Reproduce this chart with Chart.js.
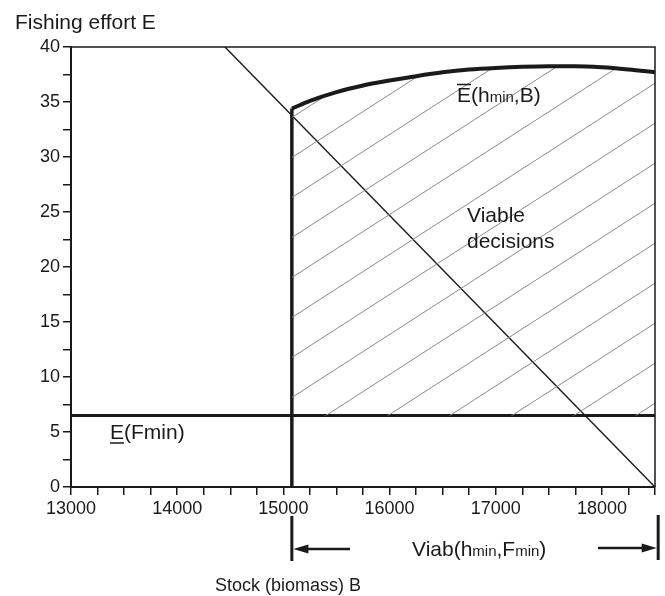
<!DOCTYPE html>
<html>
<head>
<meta charset="utf-8">
<script src="https://cdn.jsdelivr.net/npm/chart.js@4.4.1/dist/chart.umd.min.js"></script>
<style>
    html, body { margin: 0; padding: 0; background: #fff; }
    canvas { display: block; }
</style>
</head>
<body>
<canvas id="viabChart" width="665" height="596"></canvas>
<script>
// stock B on x, fishing effort E on y
const stockValues = [15080, 15250, 15500, 15750, 16000, 16250, 16500, 16750, 17000, 17250, 17500, 17750, 18000, 18250, 18500];
const effortMax = [34.4, 35.1, 35.9, 36.5, 36.95, 37.35, 37.7, 37.95, 38.1, 38.2, 38.25, 38.25, 38.15, 37.95, 37.7];
const effortMin = 6.5;
const stockRange = [13000, 18500];
const effortRange = [0, 40];
const diagonalStock = [14450, 18500];
const diagonalEffort = [40, 0];
const viabRange = [15080, 18530];

const FONT = '"Liberation Sans", Arial, Helvetica, sans-serif';
const INK = '#1a1a1a';

function makeHatch(ctx, w, h, dx) {
    let tile = document.createElement('canvas');
    tile.width = w;
    tile.height = h;
    let t = tile.getContext('2d');
    t.strokeStyle = '#8a8a8a';
    t.lineWidth = 1;
    for (let k = -1; k <= 1; k++) {
        t.beginPath();
        t.moveTo(k * w, h);
        t.lineTo((k + 1) * w, 0);
        t.stroke();
    }
    let pattern = ctx.createPattern(tile, 'repeat');
    pattern.setTransform(new DOMMatrix([1, 0, 0, 1, dx, 0]));
    return pattern;
}

// draws text pieces of mixed size on one baseline
function drawRuns(ctx, runs, x, y) {
    for (let i = 0; i < runs.length; i++) {
        ctx.font = runs[i][1] + 'px ' + FONT;
        ctx.fillText(runs[i][0], x, y);
        x += ctx.measureText(runs[i][0]).width;
    }
    return x;
}

function arrow(ctx, x0, x1, y) {
    let dir = x1 > x0 ? 1 : -1;
    ctx.lineWidth = 2.5;
    ctx.beginPath();
    ctx.moveTo(x0, y);
    ctx.lineTo(x1 - dir * 12, y);
    ctx.stroke();
    ctx.beginPath();
    ctx.moveTo(x1, y);
    ctx.lineTo(x1 - dir * 15, y - 4.5);
    ctx.lineTo(x1 - dir * 15, y + 4.5);
    ctx.closePath();
    ctx.fill();
}

const annotations = {
    id: 'annotations',
    afterDraw(chart) {
        let ctx = chart.ctx;
        let area = chart.chartArea;
        let xs = chart.scales.x;
        ctx.save();
        ctx.strokeStyle = INK;
        ctx.fillStyle = INK;

        // frame on top and right
        ctx.lineWidth = 1.5;
        ctx.beginPath();
        ctx.moveTo(area.left, area.top);
        ctx.lineTo(area.right, area.top);
        ctx.lineTo(area.right, area.bottom);
        ctx.stroke();

        ctx.textBaseline = 'alphabetic';
        ctx.textAlign = 'left';

        ctx.font = '21px ' + FONT;
        ctx.fillText('Fishing effort E', 15, 29);

        // E(Fmin) with underlined E
        drawRuns(ctx, [['E(Fmin)', 21]], 110, 439);
        ctx.lineWidth = 1.5;
        ctx.beginPath();
        ctx.moveTo(110, 443);
        ctx.lineTo(124, 443);
        ctx.stroke();

        // E-bar(hmin,B)
        drawRuns(ctx, [['E(h', 21], ['min', 15], [',B)', 21]], 457, 102);
        ctx.beginPath();
        ctx.moveTo(457, 84.5);
        ctx.lineTo(471, 84.5);
        ctx.stroke();

        ctx.font = '21px ' + FONT;
        ctx.fillText('Viable', 467, 222);
        ctx.fillText('decisions', 467, 248);

        // viability kernel span under the axis
        let xl = xs.getPixelForValue(viabRange[0]);
        let xr = xs.getPixelForValue(viabRange[1]);
        ctx.lineWidth = 3;
        ctx.beginPath();
        ctx.moveTo(xl, 516);
        ctx.lineTo(xl, 561);
        ctx.moveTo(xr, 515);
        ctx.lineTo(xr, 560);
        ctx.stroke();
        arrow(ctx, 350, xl + 1.5, 549);
        arrow(ctx, 598, xr - 1.5, 548);
        drawRuns(ctx, [['Viab(h', 21], ['min', 15], [',F', 21], ['min', 15], [')', 21]], 412, 556);

        ctx.font = '18px ' + FONT;
        ctx.fillText('Stock (biomass) B', 215, 591);
        ctx.restore();
    }
};

let canvas = document.getElementById('viabChart');
let ctx = canvas.getContext('2d');
let hatch = makeHatch(ctx, 62, 40, 40);

let curveData = stockValues.map((b, i) => ({ x: b, y: effortMax[i] }));

new Chart(ctx, {
    type: 'line',
    data: {
        datasets: [{
            label: 'E max',
            data: curveData,
            borderColor: INK,
            borderWidth: 4,
            backgroundColor: hatch,
            fill: { value: effortMin },
            cubicInterpolationMode: 'monotone',
            pointRadius: 0
        }, {
            label: 'E min',
            data: [{ x: stockRange[0], y: effortMin }, { x: stockRange[1], y: effortMin }],
            borderColor: INK,
            borderWidth: 3,
            pointRadius: 0
        }, {
            label: 'B min',
            data: [{ x: viabRange[0], y: effortRange[0] }, { x: viabRange[0], y: effortMax[0] }],
            borderColor: INK,
            borderWidth: 3.5,
            pointRadius: 0
        }, {
            label: 'diagonal',
            data: [{ x: diagonalStock[0], y: diagonalEffort[0] }, { x: diagonalStock[1], y: diagonalEffort[1] }],
            borderColor: INK,
            borderWidth: 1.4,
            pointRadius: 0
        }]
    },
    options: {
        responsive: false,
        animation: false,
        devicePixelRatio: 1,
        layout: { padding: { left: 0, top: 47, right: 10, bottom: 79 } },
        plugins: {
            legend: { display: false },
            tooltip: { enabled: false }
        },
        scales: {
            x: {
                type: 'linear',
                min: stockRange[0],
                max: stockRange[1],
                border: { color: INK, width: 2 },
                grid: { drawOnChartArea: false, drawTicks: true, tickLength: 8, color: INK, lineWidth: 1.5 },
                ticks: {
                    stepSize: 250,
                    autoSkip: false,
                    maxRotation: 0,
                    padding: 3,
                    color: INK,
                    font: { family: FONT, size: 18 },
                    callback: v => v % 1000 === 0 ? String(v) : ''
                },
                afterFit: s => { s.height = 30; }
            },
            y: {
                type: 'linear',
                min: effortRange[0],
                max: effortRange[1],
                border: { color: INK, width: 2 },
                grid: { drawOnChartArea: false, drawTicks: true, tickLength: 8, color: INK, lineWidth: 1.5 },
                ticks: {
                    stepSize: 2.5,
                    autoSkip: false,
                    padding: 3,
                    color: INK,
                    font: { family: FONT, size: 18 },
                    callback: v => v % 5 === 0 ? String(v) : ''
                },
                afterFit: s => { s.width = 71; }
            }
        }
    },
    plugins: [annotations]
});
</script>
</body>
</html>
